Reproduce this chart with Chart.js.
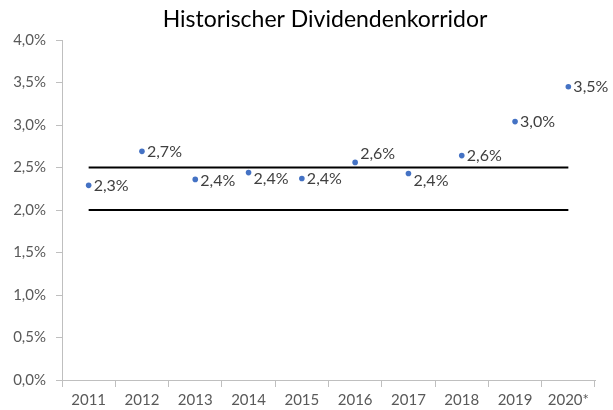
<!DOCTYPE html>
<html><head><meta charset="utf-8">
<script src="https://cdn.jsdelivr.net/npm/chart.js@4/dist/chart.umd.min.js"></script>
<style>html,body{margin:0;padding:0;background:#fff;}#wrap{width:613px;height:410px;}</style>
</head><body><div id="wrap"><canvas id="c" width="613" height="410"></canvas></div>
<script>
const titleText = "Historischer Dividendenkorridor";
const years = ["2011","2012","2013","2014","2015","2016","2017","2018","2019","2020*"];
const dividendYield = [2.29, 2.69, 2.36, 2.44, 2.37, 2.56, 2.43, 2.64, 3.04, 3.45];
const corridorUpper = [2.5, 2.5, 2.5, 2.5, 2.5, 2.5, 2.5, 2.5, 2.5, 2.5];
const corridorLower = [2.0, 2.0, 2.0, 2.0, 2.0, 2.0, 2.0, 2.0, 2.0, 2.0];
const yTicks = [0, 0.5, 1.0, 1.5, 2.0, 2.5, 3.0, 3.5, 4.0];

const FONT = "Lato, 'Noto Sans', sans-serif";
const fmt = v => v.toFixed(1).replace('.', ',') + '%';
const labelDy = [0, 0, 1, 6, 0, -9, 7, 0, 0, 0];

const labelPlugin = {
  id: 'labels',
  afterDatasetsDraw(chart) {
    const ctx = chart.ctx;
    const meta = chart.getDatasetMeta(0);
    ctx.save();
    ctx.font = "16px " + FONT;
    ctx.fillStyle = "#404040";
    ctx.textAlign = "left";
    ctx.textBaseline = "middle";
    meta.data.forEach((pt, i) => {
      ctx.fillText(fmt(dividendYield[i]), pt.x + 5, pt.y + labelDy[i]);
    });
    ctx.restore();
  },
  afterDraw(chart) {
    const ctx = chart.ctx;
    ctx.save();
    ctx.font = "23px " + FONT;
    ctx.fillStyle = "#000000";
    ctx.textAlign = "center";
    ctx.textBaseline = "middle";
    ctx.fillText(titleText, 325, 20);
    ctx.restore();
  }
};

new Chart(document.getElementById('c'), {
  type: 'line',
  data: {
    labels: years,
    datasets: [
      { data: dividendYield, showLine: false, pointRadius: 2.8, pointBackgroundColor: '#4472C4', pointBorderWidth: 0, borderColor: '#4472C4' },
      { data: corridorUpper, borderColor: '#000000', borderWidth: 2, pointRadius: 0, fill: false },
      { data: corridorLower, borderColor: '#000000', borderWidth: 2, pointRadius: 0, fill: false }
    ]
  },
  options: {
    responsive: false,
    animation: false,
    devicePixelRatio: 1,
    layout: { padding: { top: 40, right: 18, bottom: 0, left: 0 } },
    plugins: { legend: { display: false }, tooltip: { enabled: false }, title: { display: false } },
    scales: {
      x: {
        offset: true,
        grid: { offset: true, drawOnChartArea: false, tickLength: 7, color: '#BFBFBF' },
        border: { color: '#BFBFBF' },
        ticks: { font: { family: FONT, size: 15 }, color: '#595959', padding: 4, maxRotation: 0, autoSkip: false },
        afterFit: s => { s.height = 30; }
      },
      y: {
        min: 0, max: 4,
        afterBuildTicks: s => { s.ticks = yTicks.map(v => ({ value: v })); },
        grid: { drawOnChartArea: false, tickLength: 6, color: '#BFBFBF' },
        border: { color: '#BFBFBF' },
        ticks: { font: { family: FONT, size: 15 }, color: '#595959', padding: 10, callback: v => fmt(v) },
        afterFit: s => { s.width = 62; }
      }
    }
  },
  plugins: [labelPlugin]
});
</script></body></html>
